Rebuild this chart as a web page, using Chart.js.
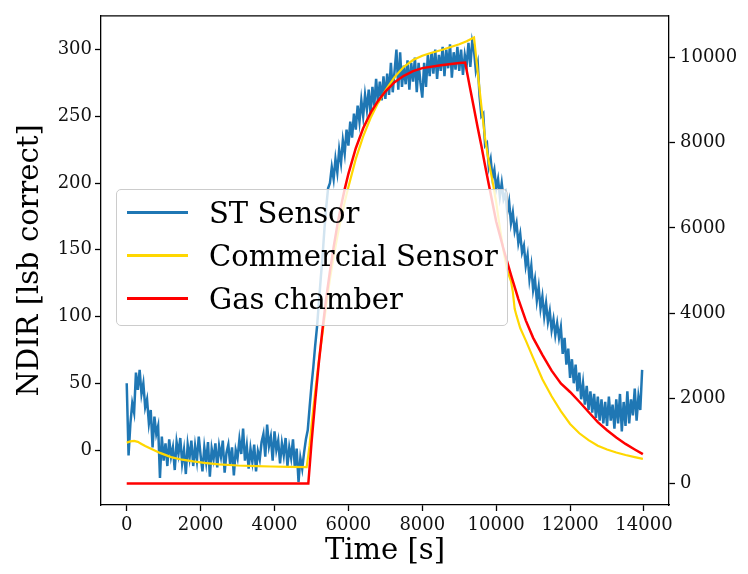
<!DOCTYPE html>
<html>
<head>
<meta charset="utf-8">
<script src="https://cdn.jsdelivr.net/npm/chart.js@4.4.0/dist/chart.umd.min.js"></script>
<style>
  html, body { margin: 0; padding: 0; background: #ffffff; }
  #wrap { position: relative; width: 748px; height: 574px; }
  #legend {
    position: absolute; left: 116px; top: 189px; width: 390px; height: 135px;
    background: rgba(255,255,255,0.8); border: 1px solid #cccccc; border-radius: 5px;
    font-family: "DejaVu Serif"; font-size: 29px; color: #000;
  }
  .lg-item { position: absolute; left: 0; height: 36px; width: 390px; }
  .lg-line { position: absolute; left: 10px; width: 61px; height: 3px; top: 16px; }
  .lg-text { position: absolute; left: 92px; top: 0; line-height: 36px; white-space: nowrap; }
</style>
</head>
<body>
<div id="wrap">
  <canvas id="c" width="748" height="574"></canvas>
  <div id="legend"></div>
</div>
<script>
// ---------------- DATA ----------------
const seriesNames = ['ST Sensor', 'Commercial Sensor', 'Gas chamber'];
const seriesColors = ['#1f77b4', '#ffd700', '#ff0000'];

// ST Sensor (left axis, NDIR lsb), one sample every 50 s starting at t = 0
const stSampleStart = 0;
const stSampleStep = 50;
const stValues = [
  // 0 - 950
  50, -4, 20, 35, 28, 58, 45, 60, 42, 50, 32, 38, 20, 30, 2, 25, 12, 18, -21, 10,
  // 1000 - 4850
  -8, 5, -12, 8, -5, 2, -15, 6, -3, 9,
  -10, 0, -18, 4, -6, 7, -12, 3, -8, 10,
  -4, -16, 2, -9, 6, -20, 1, -7, 5, -13,
  3, -5, 7, -17, -2, 4, -11, 2, -19, 0,
  -6, 8, -3, 16, -8, 3, -14, 1, -9, 4,
  -16, -1, -7, 6, 12, -5, 19, 3, 10, -8,
  14, 0, 7, -10, 5, -4, 9, -12, 2, -6,
  8, -13, 1, -24, -6, -14, -2, 8,
  // 4900 - 5450
  15, 32, 48, 62, 78, 92, 110, 128, 145, 165, 182, 196,
  // 5500 - 9350
  200, 212, 203, 218, 208, 225, 215, 232, 222, 240,
  228, 246, 234, 252, 240, 258, 246, 262, 250, 266,
  255, 270, 252, 272, 258, 278, 260, 276, 262, 280,
  263, 282, 266, 290, 268, 284, 300, 270, 298, 272,
  288, 274, 292, 270, 290, 276, 294, 268, 290, 275,
  264, 290, 272, 296, 280, 298, 282, 300, 278, 296,
  284, 302, 280, 300, 286, 304, 279, 298, 285, 302,
  284, 300, 281, 296, 288, 305, 287, 306,
  // 9400 - 13950
  299, 284, 290, 265, 250, 252, 228, 230, 212, 218,
  204, 210, 196, 203, 190, 200, 188, 192, 178, 186,
  170, 178, 164, 170, 155, 162, 148, 153, 138, 146,
  128, 138, 120, 128, 112, 122, 106, 115, 100, 110,
  96, 104, 90, 98, 86, 95, 84, 92, 72, 84,
  64, 76, 54, 68, 50, 64, 44, 58, 38, 50,
  34, 48, 30, 44, 28, 42, 24, 40, 22, 38,
  20, 36, 18, 40, 22, 34, 16, 38, 20, 42,
  14, 36, 18, 44, 20, 38, 26, 46, 22, 40,
  30, 60
];

// Commercial Sensor (right axis, ppm)
const commTime = [0,100,200,300,400,500,700,900,1200,1500,1800,2100,2500,3000,3500,3900,4400,4870,
  4950,5000,5100,5200,5300,5400,5500,5600,5700,5800,5900,6000,6200,6400,6600,6800,7000,7250,7500,7750,8000,8250,8500,8750,9000,9200,9400,
  9500,9600,9700,9800,9900,10000,10100,10200,10300,10400,10450,10500,10550,10650,10800,11000,11250,11500,11750,12000,12250,12500,12750,13000,13250,13500,13750,13970];
const commValues = [960,990,1000,980,930,880,800,720,620,560,520,486,450,424,408,400,392,385,
  900,1350,2150,2880,3540,4180,4800,5320,5790,6220,6610,6960,7620,8150,8580,8930,9220,9540,9780,9940,10040,10110,10170,10240,10310,10380,10470,
  9650,8850,8100,7550,7100,6600,6000,5450,5000,4750,4500,4100,3940,3650,3360,2950,2450,2050,1700,1400,1180,1020,890,800,730,670,620,580];

// Gas chamber (right axis, ppm)
const gasTime = [0,4915,5000,5100,5200,5300,5400,5500,5600,5700,5800,5900,6000,6200,6400,6600,6800,7000,7250,7500,7750,8000,8500,9000,9160,
  9300,9400,9500,9600,9700,9800,10000,10200,10400,10600,10800,11000,11250,11500,11750,12000,12250,12500,12750,13000,13250,13500,13750,13970];
const gasValues = [0,0,940,1930,2830,3630,4350,4980,5550,6060,6510,6910,7270,7870,8340,8700,8980,9200,9420,9570,9680,9750,9820,9870,9880,
  9250,8800,8350,7920,7460,7020,6150,5500,4900,4330,3830,3420,3020,2650,2350,2150,1920,1680,1440,1250,1080,930,800,690];

// Axis ticks / titles
const xTitle = 'Time [s]';
const yTitle = 'NDIR [lsb correct]';
const xTicks = [0, 2000, 4000, 6000, 8000, 10000, 12000, 14000];
const yLeftTicks = [0, 50, 100, 150, 200, 250, 300];
const yRightTicks = [0, 2000, 4000, 6000, 8000, 10000];

// --------------- BUILD ----------------
const stData = stValues.map((v, i) => ({ x: stSampleStart + i * stSampleStep, y: v }));
const commData = commTime.map((t, i) => ({ x: t, y: commValues[i] }));
const gasData = gasTime.map((t, i) => ({ x: t, y: gasValues[i] }));

const FONT = 'DejaVu Serif';
const tickFont = { family: FONT, size: 18 };
const titleFont = { family: FONT, size: 29 };
const plain = v => String(v);

const topBorder = {
  id: 'topBorder',
  afterDatasetsDraw(chart) {
    const a = chart.chartArea, ctx = chart.ctx;
    ctx.save();
    ctx.strokeStyle = '#000';
    ctx.lineWidth = 1.3;
    ctx.beginPath();
    ctx.moveTo(a.left, a.top);
    ctx.lineTo(a.right, a.top);
    ctx.stroke();
    ctx.restore();
  }
};

const axisCommon = (tickList, pad) => ({
  type: 'linear',
  ticks: { font: tickFont, color: '#111', callback: plain, autoSkip: false, maxRotation: 0, padding: pad },
  grid: { display: true, drawOnChartArea: false, drawTicks: true, tickLength: 6, tickWidth: 1.3, tickColor: '#000' },
  border: { display: true, color: '#000', width: 1.3 },
  afterBuildTicks(s) { s.ticks = tickList.map(v => ({ value: v })); }
});

const chart = new Chart(document.getElementById('c'), {
  type: 'line',
  data: {
    datasets: [
      { label: seriesNames[0], data: stData, yAxisID: 'y', borderColor: seriesColors[0], borderWidth: 2.5, pointRadius: 0, tension: 0, order: 3 },
      { label: seriesNames[1], data: commData, yAxisID: 'y2', borderColor: seriesColors[1], borderWidth: 2.2, pointRadius: 0, tension: 0, order: 2 },
      { label: seriesNames[2], data: gasData, yAxisID: 'y2', borderColor: seriesColors[2], borderWidth: 2.5, pointRadius: 0, tension: 0, order: 1 }
    ]
  },
  options: {
    responsive: false,
    animation: false,
    layout: { padding: { top: 9, left: 0, right: 0, bottom: 0 } },
    plugins: { legend: { display: false }, tooltip: { enabled: false } },
    scales: {
      x: Object.assign(axisCommon(xTicks, 4), {
        position: 'bottom', min: -696, max: 14677,
        title: { display: true, text: xTitle, font: titleFont, color: '#000', padding: { top: 0, bottom: 5 } },
        afterFit(s) { s.height = 69; }
      }),
      y: Object.assign(axisCommon(yLeftTicks, 3), {
        position: 'left', min: -41.2, max: 325.3,
        title: { display: true, text: yTitle, font: titleFont, color: '#000', padding: { top: 13, bottom: 0 } },
        afterFit(s) { s.width = 101; }
      }),
      y2: Object.assign(axisCommon(yRightTicks, 5), {
        position: 'right', min: -503, max: 10978,
        afterFit(s) { s.width = 79; }
      })
    }
  },
  plugins: [topBorder]
});

// HTML legend built from datasets
const lg = document.getElementById('legend');
chart.data.datasets.forEach((ds, i) => {
  const item = document.createElement('div');
  item.className = 'lg-item';
  item.style.top = (5 + i * 43) + 'px';
  const line = document.createElement('div');
  line.className = 'lg-line';
  line.style.background = ds.borderColor;
  const txt = document.createElement('div');
  txt.className = 'lg-text';
  txt.textContent = ds.label;
  item.appendChild(line);
  item.appendChild(txt);
  lg.appendChild(item);
});
</script>
</body>
</html>
